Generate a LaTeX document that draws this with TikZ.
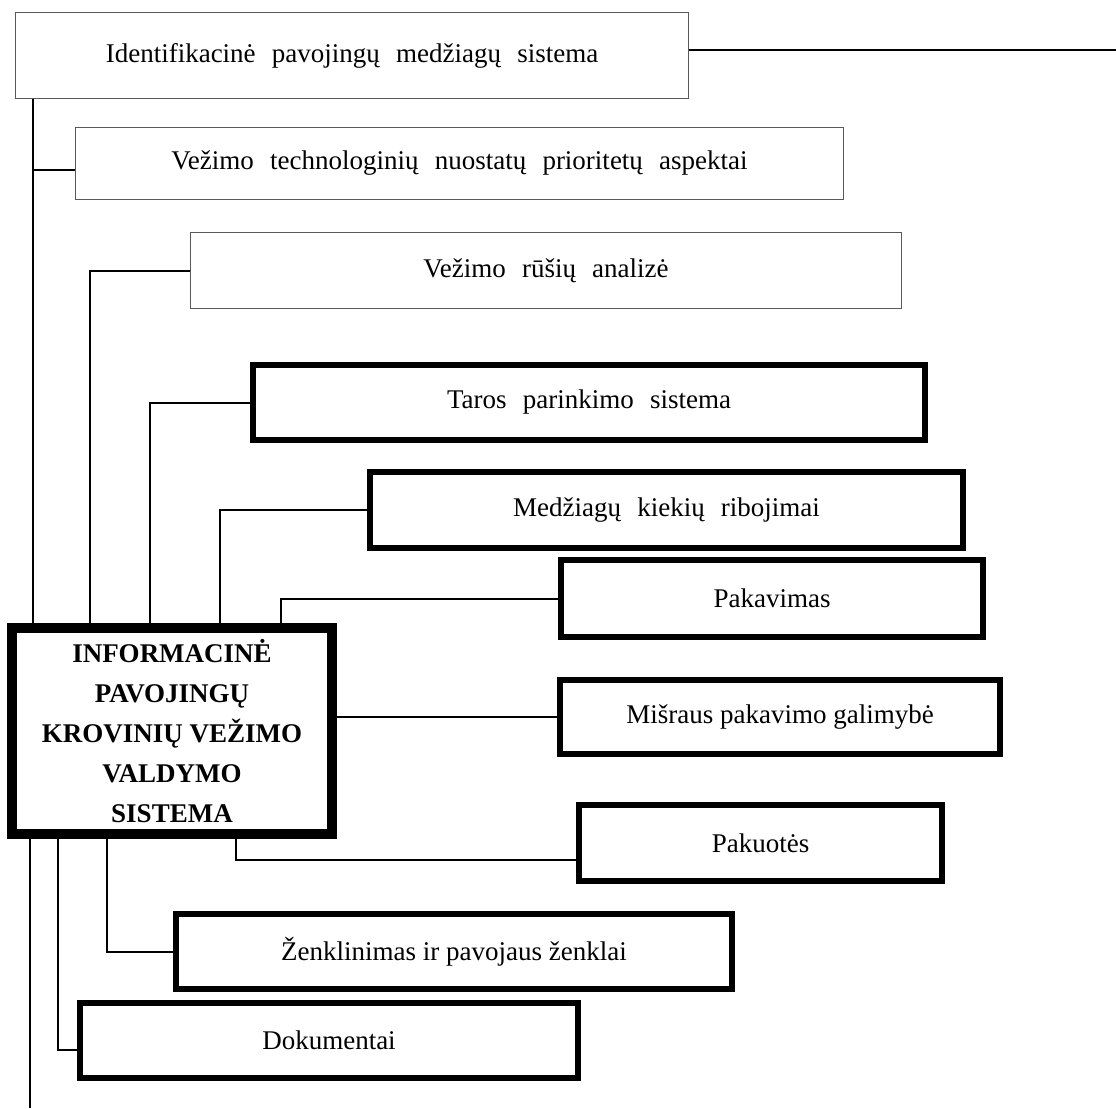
\documentclass[tikz,border=0pt]{standalone}
\usepackage{fontspec}
\setmainfont{Liberation Serif}

\tikzset{
  thinbox/.style={draw=black!65, line width=1pt, inner sep=0pt, font=\fontsize{27}{32}\selectfont},
  thickbox/.style={draw, line width=6pt, inner sep=0pt, font=\fontsize{27}{32}\selectfont},
  widegap/.style={font={\fontsize{27}{32}\selectfont\spaceskip=0.6em\relax}},
  link/.style={line width=2pt},
}

\begin{document}
\begin{tikzpicture}[x=1pt,y=-1pt]
\useasboundingbox (0,0) rectangle (1116,1108);

% boxes above
\node[thinbox,widegap,minimum width=673pt,minimum height=86pt] (ident) at (352,55.5) {Identifikacinė pavojingų medžiagų sistema};
\node[thinbox,widegap,minimum width=768pt,minimum height=72pt] (technol) at (459.5,163.5) {Vežimo technologinių nuostatų prioritetų aspektai};
\node[thinbox,widegap,minimum width=711pt,minimum height=76pt] (rusys) at (546,270.5) {Vežimo rūšių analizė};
\node[thickbox,widegap,minimum width=672pt,minimum height=75pt] (taros) at (589,402.5) {Taros parinkimo sistema};
\node[thickbox,widegap,minimum width=593pt,minimum height=76pt] (kiekiai) at (666.5,510) {Medžiagų kiekių ribojimai};
\node[thickbox,minimum width=422pt,minimum height=77pt] (pakavimas) at (772,598.5) {Pakavimas};

% main box
\node[draw,line width=10pt,minimum width=320pt,minimum height=206pt,align=center,
  font=\fontsize{27}{40}\selectfont\bfseries] (main) at (172,731)
  {INFORMACINĖ\\PAVOJINGŲ\\KROVINIŲ VEŽIMO\\VALDYMO\\SISTEMA};

% boxes below
\node[thickbox,minimum width=440pt,minimum height=74pt] (misraus) at (780,717) {Mišraus pakavimo galimybė};
\node[thickbox,minimum width=363pt,minimum height=76pt] (pakuotes) at (760.5,843) {Pakuotės};
\node[thickbox,minimum width=556pt,minimum height=75pt] (zenkl) at (454,951.5) {Ženklinimas ir pavojaus ženklai};
\node[thickbox,minimum width=498pt,minimum height=75pt] (dokum) at (329,1040.5) {Dokumentai};

% x of the vertical links
\coordinate (xa) at (33,0);
\coordinate (xb) at (90,0);
\coordinate (xc) at (150,0);
\coordinate (xd) at (220,0);
\coordinate (xe) at (281,0);
\coordinate (xf) at (30,0);
\coordinate (xg) at (58,0);
\coordinate (xh) at (107,0);
\coordinate (xi) at (236,0);
\coordinate (bottom) at (30,1108);
\coordinate (rightend) at (1116,0);

\coordinate (c1) at ([yshift=5.5pt]ident.east);
\coordinate (c2) at ([yshift=-6.5pt]technol.west);
\coordinate (c8) at ([yshift=-17pt]pakuotes.west);
\coordinate (c10) at ([yshift=-9.5pt]dokum.west);

\draw[link] (c1) -- (c1 -| rightend);
\draw[link] (ident.south -| xa) -- (main.north -| xa);
\draw[link] (c2 -| xa) -- (c2);
\draw[link] (main.north -| xb) |- (rusys.west);
\draw[link] (main.north -| xc) |- (taros.west);
\draw[link] (main.north -| xd) |- (kiekiai.west);
\draw[link] (main.north -| xe) |- (pakavimas.west);
\draw[link] (misraus.west -| main.east) -- (misraus.west);
\draw[link] (main.south -| xi) |- (c8);
\draw[link] (main.south -| xh) |- (zenkl.west);
\draw[link] (main.south -| xg) |- (c10);
\draw[link] (main.south -| xf) -- (bottom);

\end{tikzpicture}
\end{document}
